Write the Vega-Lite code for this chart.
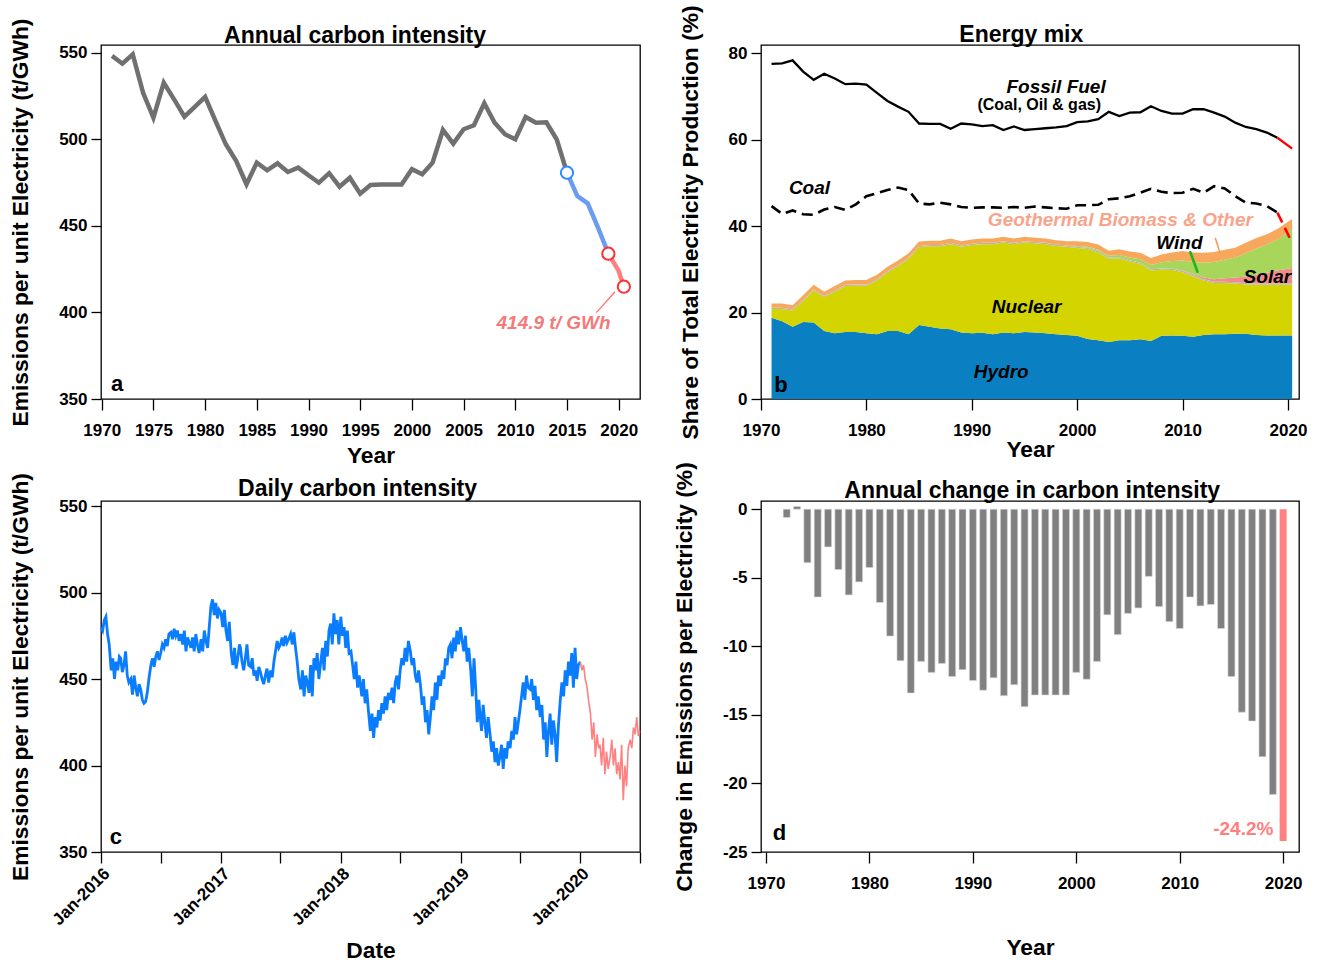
{
"$schema": "https://vega.github.io/schema/vega-lite/v6.json",
"background": "white",
"padding": {"left": 8, "top": 4, "right": 5, "bottom": 5},
"columns": 2,
"spacing": {"row": 102, "column": 121},
"bounds": "flush",
"config": {
  "font": "Liberation Sans",
  "view": {"stroke": "#000", "strokeWidth": 1.3},
  "axis": {"grid": false, "domain": false, "labelFont": "Liberation Sans", "labelFontSize": 17, "labelFontWeight": "bold", "labelColor": "#000", "titleFont": "Liberation Sans", "titleFontSize": 22.8, "titleFontWeight": "bold", "titleColor": "#000", "tickColor": "#000", "tickWidth": 1.3, "labelFlush": false, "labelOverlap": false, "labelBound": false},
  "axisX": {"tickSize": 11, "labelPadding": 12},
  "axisY": {"tickSize": 10, "labelPadding": 4, "titlePadding": 26}
},
"datasets": {
  "ann": [
    {"yr":1971,"v":548.3},{"yr":1972,"v":543.8},{"yr":1973,"v":549.2},{"yr":1974,"v":527},{"yr":1975,"v":512.6},{"yr":1976,"v":532.8},{"yr":1977,"v":523.2},{"yr":1978,"v":513.2},{"yr":1979,"v":518.8},{"yr":1980,"v":524.6},
    {"yr":1981,"v":510.7},{"yr":1982,"v":497.2},{"yr":1983,"v":487.6},{"yr":1984,"v":474.1},{"yr":1985,"v":486.6},{"yr":1986,"v":482.2},{"yr":1987,"v":486.2},{"yr":1988,"v":481.2},{"yr":1989,"v":483.7},{"yr":1990,"v":479.3},
    {"yr":1991,"v":475},{"yr":1992,"v":480.5},{"yr":1993,"v":472.7},{"yr":1994,"v":477.9},{"yr":1995,"v":468.7},{"yr":1996,"v":473.7},{"yr":1997,"v":474},{"yr":1998,"v":474},{"yr":1999,"v":474},{"yr":2000,"v":482.8},
    {"yr":2001,"v":479.9},{"yr":2002,"v":486.6},{"yr":2003,"v":505.5},{"yr":2004,"v":497.6},{"yr":2005,"v":505.9},{"yr":2006,"v":508.2},{"yr":2007,"v":520.9},{"yr":2008,"v":509.7},{"yr":2009,"v":503},{"yr":2010,"v":500.1},
    {"yr":2011,"v":513},{"yr":2012,"v":509.7},{"yr":2013,"v":509.9},{"yr":2014,"v":500.1},{"yr":2015,"v":480.8},{"yr":2016,"v":467.3},{"yr":2017,"v":463.1},{"yr":2018,"v":449},{"yr":2019,"v":434},{"yr":2020,"v":424},{"yr":2020.5,"v":414.9}
  ],
  "mix": [
    {"yr":1971,"a_hydro":18.8,"b_nuclear":2.0,"c_gap":0.3,"d_solar":0,"e_wind":0,"f_other":1.0},
    {"yr":1972,"a_hydro":18.0,"b_nuclear":2.8,"c_gap":0.3,"d_solar":0,"e_wind":0,"f_other":1.0},
    {"yr":1973,"a_hydro":16.7,"b_nuclear":3.7,"c_gap":0.3,"d_solar":0,"e_wind":0,"f_other":1.0},
    {"yr":1974,"a_hydro":17.8,"b_nuclear":4.9,"c_gap":0.3,"d_solar":0,"e_wind":0,"f_other":1.0},
    {"yr":1975,"a_hydro":17.7,"b_nuclear":7.4,"c_gap":0.3,"d_solar":0,"e_wind":0,"f_other":1.0},
    {"yr":1976,"a_hydro":15.7,"b_nuclear":7.8,"c_gap":0.3,"d_solar":0,"e_wind":0,"f_other":1.0},
    {"yr":1977,"a_hydro":15.2,"b_nuclear":9.6,"c_gap":0.3,"d_solar":0,"e_wind":0,"f_other":1.0},
    {"yr":1978,"a_hydro":15.5,"b_nuclear":10.6,"c_gap":0.3,"d_solar":0,"e_wind":0,"f_other":1.0},
    {"yr":1979,"a_hydro":15.5,"b_nuclear":10.7,"c_gap":0.3,"d_solar":0,"e_wind":0,"f_other":1.0},
    {"yr":1980,"a_hydro":15.2,"b_nuclear":11.0,"c_gap":0.3,"d_solar":0,"e_wind":0,"f_other":1.0},
    {"yr":1981,"a_hydro":15.0,"b_nuclear":12.4,"c_gap":0.3,"d_solar":0,"e_wind":0,"f_other":1.0},
    {"yr":1982,"a_hydro":15.7,"b_nuclear":13.6,"c_gap":0.3,"d_solar":0,"e_wind":0,"f_other":1.0},
    {"yr":1983,"a_hydro":15.7,"b_nuclear":15.0,"c_gap":0.3,"d_solar":0,"e_wind":0,"f_other":1.0},
    {"yr":1984,"a_hydro":15.0,"b_nuclear":17.4,"c_gap":0.3,"d_solar":0,"e_wind":0,"f_other":1.0},
    {"yr":1985,"a_hydro":17.1,"b_nuclear":18.0,"c_gap":0.3,"d_solar":0,"e_wind":0,"f_other":1.0},
    {"yr":1986,"a_hydro":16.7,"b_nuclear":18.6,"c_gap":0.3,"d_solar":0,"e_wind":0,"f_other":1.0},
    {"yr":1987,"a_hydro":16.3,"b_nuclear":19.0,"c_gap":0.3,"d_solar":0,"e_wind":0,"f_other":1.0},
    {"yr":1988,"a_hydro":16.1,"b_nuclear":19.7,"c_gap":0.3,"d_solar":0,"e_wind":0,"f_other":1.0},
    {"yr":1989,"a_hydro":15.4,"b_nuclear":19.8,"c_gap":0.3,"d_solar":0,"e_wind":0,"f_other":1.0},
    {"yr":1990,"a_hydro":15.2,"b_nuclear":20.4,"c_gap":0.3,"d_solar":0,"e_wind":0,"f_other":1.0},
    {"yr":1991,"a_hydro":15.3,"b_nuclear":20.5,"c_gap":0.3,"d_solar":0,"e_wind":0,"f_other":1.0},
    {"yr":1992,"a_hydro":15.0,"b_nuclear":20.8,"c_gap":0.3,"d_solar":0,"e_wind":0,"f_other":1.0},
    {"yr":1993,"a_hydro":15.4,"b_nuclear":20.8,"c_gap":0.3,"d_solar":0,"e_wind":0,"f_other":1.0},
    {"yr":1994,"a_hydro":15.2,"b_nuclear":20.6,"c_gap":0.3,"d_solar":0,"e_wind":0,"f_other":1.0},
    {"yr":1995,"a_hydro":15.5,"b_nuclear":20.7,"c_gap":0.3,"d_solar":0,"e_wind":0,"f_other":1.0},
    {"yr":1996,"a_hydro":15.4,"b_nuclear":20.6,"c_gap":0.3,"d_solar":0,"e_wind":0,"f_other":1.0},
    {"yr":1997,"a_hydro":15.2,"b_nuclear":20.6,"c_gap":0.3,"d_solar":0,"e_wind":0,"f_other":1.0},
    {"yr":1998,"a_hydro":15.0,"b_nuclear":20.4,"c_gap":0.3,"d_solar":0,"e_wind":0,"f_other":1.0},
    {"yr":1999,"a_hydro":14.8,"b_nuclear":20.4,"c_gap":0.3,"d_solar":0,"e_wind":0,"f_other":1.0},
    {"yr":2000,"a_hydro":14.6,"b_nuclear":20.3,"c_gap":0.3,"d_solar":0,"e_wind":0.2,"f_other":1.1},
    {"yr":2001,"a_hydro":13.9,"b_nuclear":20.8,"c_gap":0.3,"d_solar":0,"e_wind":0.2,"f_other":1.1},
    {"yr":2002,"a_hydro":13.6,"b_nuclear":20.3,"c_gap":0.3,"d_solar":0,"e_wind":0.3,"f_other":1.2},
    {"yr":2003,"a_hydro":13.2,"b_nuclear":19.2,"c_gap":0.3,"d_solar":0,"e_wind":0.4,"f_other":1.2},
    {"yr":2004,"a_hydro":13.6,"b_nuclear":18.9,"c_gap":0.3,"d_solar":0,"e_wind":0.5,"f_other":1.3},
    {"yr":2005,"a_hydro":13.6,"b_nuclear":18.2,"c_gap":0.3,"d_solar":0,"e_wind":0.6,"f_other":1.4},
    {"yr":2006,"a_hydro":13.8,"b_nuclear":17.4,"c_gap":0.3,"d_solar":0,"e_wind":0.8,"f_other":1.5},
    {"yr":2007,"a_hydro":13.4,"b_nuclear":16.3,"c_gap":0.3,"d_solar":0,"e_wind":1.0,"f_other":1.6},
    {"yr":2008,"a_hydro":14.6,"b_nuclear":15.3,"c_gap":0.3,"d_solar":0,"e_wind":1.4,"f_other":1.8},
    {"yr":2009,"a_hydro":14.7,"b_nuclear":15.1,"c_gap":0.3,"d_solar":0,"e_wind":1.8,"f_other":2.0},
    {"yr":2010,"a_hydro":14.6,"b_nuclear":14.7,"c_gap":0.3,"d_solar":0.1,"e_wind":2.3,"f_other":2.2},
    {"yr":2011,"a_hydro":14.4,"b_nuclear":14.0,"c_gap":0.3,"d_solar":0.2,"e_wind":2.8,"f_other":2.2},
    {"yr":2012,"a_hydro":14.8,"b_nuclear":12.6,"c_gap":0.3,"d_solar":0.4,"e_wind":3.4,"f_other":2.3},
    {"yr":2013,"a_hydro":15.0,"b_nuclear":11.8,"c_gap":0.3,"d_solar":0.6,"e_wind":4.0,"f_other":2.3},
    {"yr":2014,"a_hydro":15.0,"b_nuclear":11.8,"c_gap":0.3,"d_solar":0.8,"e_wind":4.3,"f_other":2.3},
    {"yr":2015,"a_hydro":15.1,"b_nuclear":11.6,"c_gap":0.3,"d_solar":1.1,"e_wind":4.6,"f_other":2.3},
    {"yr":2016,"a_hydro":15.1,"b_nuclear":11.4,"c_gap":0.3,"d_solar":1.5,"e_wind":5.4,"f_other":2.4},
    {"yr":2017,"a_hydro":14.8,"b_nuclear":11.6,"c_gap":0.3,"d_solar":2.0,"e_wind":6.1,"f_other":2.4},
    {"yr":2018,"a_hydro":14.7,"b_nuclear":11.7,"c_gap":0.3,"d_solar":2.5,"e_wind":6.5,"f_other":2.4},
    {"yr":2019,"a_hydro":14.7,"b_nuclear":11.7,"c_gap":0.3,"d_solar":3.0,"e_wind":7.2,"f_other":2.4},
    {"yr":2020.4,"a_hydro":14.7,"b_nuclear":11.7,"c_gap":0.3,"d_solar":3.6,"e_wind":8.9,"f_other":2.4}
  ],
  "fos": [
    {"yr":1971,"f":77.5,"c":44.6},{"yr":1972,"f":77.6,"c":42.8},{"yr":1973,"f":78.3,"c":43.6},{"yr":1974,"f":75.7,"c":42.7},{"yr":1975,"f":73.8,"c":42.6},{"yr":1976,"f":75.2,"c":43.8},{"yr":1977,"f":74.1,"c":44.4},{"yr":1978,"f":72.8,"c":43.7},{"yr":1979,"f":72.9,"c":45.0},{"yr":1980,"f":72.7,"c":46.9},
    {"yr":1981,"f":70.8,"c":47.6},{"yr":1982,"f":68.9,"c":48.3},{"yr":1983,"f":67.6,"c":48.9},{"yr":1984,"f":66.4,"c":48.3},{"yr":1985,"f":63.7,"c":45.2},{"yr":1986,"f":63.6,"c":45.0},{"yr":1987,"f":63.6,"c":45.4},{"yr":1988,"f":62.5,"c":45.0},{"yr":1989,"f":63.7,"c":44.4},{"yr":1990,"f":63.5,"c":44.2},
    {"yr":1991,"f":63.1,"c":44.3},{"yr":1992,"f":63.3,"c":44.3},{"yr":1993,"f":62.2,"c":44.2},{"yr":1994,"f":63.0,"c":44.4},{"yr":1995,"f":62.2,"c":44.2},{"yr":1996,"f":62.4,"c":44.5},{"yr":1997,"f":62.6,"c":44.3},{"yr":1998,"f":62.8,"c":44.1},{"yr":1999,"f":63.1,"c":44.0},{"yr":2000,"f":64.0,"c":44.8},
    {"yr":2001,"f":64.2,"c":44.8},{"yr":2002,"f":64.7,"c":44.9},{"yr":2003,"f":66.4,"c":46.2},{"yr":2004,"f":65.4,"c":46.4},{"yr":2005,"f":66.2,"c":46.9},{"yr":2006,"f":66.3,"c":47.7},{"yr":2007,"f":67.7,"c":48.6},{"yr":2008,"f":66.6,"c":47.9},{"yr":2009,"f":66.0,"c":47.6},{"yr":2010,"f":66.0,"c":47.7},
    {"yr":2011,"f":67.0,"c":48.6},{"yr":2012,"f":67.0,"c":47.7},{"yr":2013,"f":66.2,"c":49.2},{"yr":2014,"f":65.3,"c":48.7},{"yr":2015,"f":63.9,"c":46.9},{"yr":2016,"f":62.9,"c":45.4},{"yr":2017,"f":62.4,"c":45.2},{"yr":2018,"f":61.6,"c":44.6},{"yr":2019,"f":60.4,"c":43.1},{"yr":2020.4,"f":57.9,"c":36.1}
  ],
  "chg": [
    {"yr":1972,"v":-0.6},{"yr":1973,"v":0.2},{"yr":1974,"v":-3.9},{"yr":1975,"v":-6.4},{"yr":1976,"v":-2.75},{"yr":1977,"v":-4.4},{"yr":1978,"v":-6.25},{"yr":1979,"v":-5.3},{"yr":1980,"v":-4.25},
    {"yr":1981,"v":-6.8},{"yr":1982,"v":-9.25},{"yr":1983,"v":-11.05},{"yr":1984,"v":-13.4},{"yr":1985,"v":-11.1},{"yr":1986,"v":-11.9},{"yr":1987,"v":-11.25},{"yr":1988,"v":-12.2},{"yr":1989,"v":-11.7},{"yr":1990,"v":-12.5},
    {"yr":1991,"v":-13.2},{"yr":1992,"v":-12.3},{"yr":1993,"v":-13.6},{"yr":1994,"v":-12.8},{"yr":1995,"v":-14.4},{"yr":1996,"v":-13.55},{"yr":1997,"v":-13.55},{"yr":1998,"v":-13.55},{"yr":1999,"v":-13.55},{"yr":2000,"v":-11.9},
    {"yr":2001,"v":-12.4},{"yr":2002,"v":-11.1},{"yr":2003,"v":-7.7},{"yr":2004,"v":-9.15},{"yr":2005,"v":-7.6},{"yr":2006,"v":-7.2},{"yr":2007,"v":-4.9},{"yr":2008,"v":-7.1},{"yr":2009,"v":-8.2},{"yr":2010,"v":-8.7},
    {"yr":2011,"v":-6.4},{"yr":2012,"v":-7.05},{"yr":2013,"v":-6.95},{"yr":2014,"v":-8.7},{"yr":2015,"v":-12.2},{"yr":2016,"v":-14.8},{"yr":2017,"v":-15.45},{"yr":2018,"v":-18.05},{"yr":2019,"v":-20.8},{"yr":2020,"v":-24.2}
  ],
  "daily": [
    {"d":"2016-01-01","v":480},{"d":"2016-01-06","v":478},{"d":"2016-01-11","v":484},{"d":"2016-01-16","v":486},{"d":"2016-01-21","v":476},{"d":"2016-01-26","v":470},
    {"d":"2016-02-01","v":455},{"d":"2016-02-06","v":462},{"d":"2016-02-11","v":450},{"d":"2016-02-16","v":460},{"d":"2016-02-21","v":455},{"d":"2016-02-26","v":463},
    {"d":"2016-03-01","v":462},{"d":"2016-03-06","v":454},{"d":"2016-03-11","v":458},{"d":"2016-03-16","v":466},{"d":"2016-03-21","v":452},{"d":"2016-03-26","v":448},
    {"d":"2016-04-01","v":450},{"d":"2016-04-06","v":441},{"d":"2016-04-11","v":452},{"d":"2016-04-16","v":445},{"d":"2016-04-21","v":440},{"d":"2016-04-26","v":447},
    {"d":"2016-05-01","v":444},{"d":"2016-05-06","v":438},{"d":"2016-05-11","v":436},{"d":"2016-05-16","v":437},{"d":"2016-05-21","v":442},{"d":"2016-05-26","v":450},
    {"d":"2016-06-01","v":458},{"d":"2016-06-06","v":462},{"d":"2016-06-11","v":457},{"d":"2016-06-16","v":463},{"d":"2016-06-21","v":466},{"d":"2016-06-26","v":461},
    {"d":"2016-07-01","v":465},{"d":"2016-07-06","v":470},{"d":"2016-07-11","v":468},{"d":"2016-07-16","v":473},{"d":"2016-07-21","v":469},{"d":"2016-07-26","v":476},
    {"d":"2016-08-01","v":477},{"d":"2016-08-06","v":473},{"d":"2016-08-11","v":479},{"d":"2016-08-16","v":475},{"d":"2016-08-21","v":478},{"d":"2016-08-26","v":472},
    {"d":"2016-09-01","v":476},{"d":"2016-09-06","v":470},{"d":"2016-09-11","v":478},{"d":"2016-09-16","v":466},{"d":"2016-09-21","v":474},{"d":"2016-09-26","v":471},
    {"d":"2016-10-01","v":468},{"d":"2016-10-06","v":474},{"d":"2016-10-11","v":466},{"d":"2016-10-16","v":476},{"d":"2016-10-21","v":470},{"d":"2016-10-26","v":465},
    {"d":"2016-11-01","v":473},{"d":"2016-11-06","v":466},{"d":"2016-11-11","v":478},{"d":"2016-11-16","v":472},{"d":"2016-11-21","v":468},{"d":"2016-11-26","v":480},
    {"d":"2016-12-01","v":492},{"d":"2016-12-06","v":496},{"d":"2016-12-11","v":487},{"d":"2016-12-16","v":494},{"d":"2016-12-21","v":485},{"d":"2016-12-26","v":490},
    {"d":"2017-01-01","v":488},{"d":"2017-01-06","v":480},{"d":"2017-01-11","v":490},{"d":"2017-01-16","v":478},{"d":"2017-01-21","v":472},{"d":"2017-01-26","v":483},
    {"d":"2017-02-01","v":465},{"d":"2017-02-06","v":458},{"d":"2017-02-11","v":468},{"d":"2017-02-16","v":456},{"d":"2017-02-21","v":462},{"d":"2017-02-26","v":470},
    {"d":"2017-03-01","v":468},{"d":"2017-03-06","v":460},{"d":"2017-03-11","v":455},{"d":"2017-03-16","v":462},{"d":"2017-03-21","v":470},{"d":"2017-03-26","v":458},
    {"d":"2017-04-01","v":457},{"d":"2017-04-06","v":462},{"d":"2017-04-11","v":452},{"d":"2017-04-16","v":455},{"d":"2017-04-21","v":449},{"d":"2017-04-26","v":457},
    {"d":"2017-05-01","v":454},{"d":"2017-05-06","v":450},{"d":"2017-05-11","v":447},{"d":"2017-05-16","v":452},{"d":"2017-05-21","v":456},{"d":"2017-05-26","v":448},
    {"d":"2017-06-01","v":455},{"d":"2017-06-06","v":451},{"d":"2017-06-11","v":460},{"d":"2017-06-16","v":466},{"d":"2017-06-21","v":472},{"d":"2017-06-26","v":468},
    {"d":"2017-07-01","v":470},{"d":"2017-07-06","v":474},{"d":"2017-07-11","v":469},{"d":"2017-07-16","v":475},{"d":"2017-07-21","v":471},{"d":"2017-07-26","v":473},
    {"d":"2017-08-01","v":476},{"d":"2017-08-06","v":470},{"d":"2017-08-11","v":477},{"d":"2017-08-16","v":468},{"d":"2017-08-21","v":460},{"d":"2017-08-26","v":450},
    {"d":"2017-09-01","v":444},{"d":"2017-09-06","v":455},{"d":"2017-09-11","v":440},{"d":"2017-09-16","v":452},{"d":"2017-09-21","v":448},{"d":"2017-09-26","v":442},
    {"d":"2017-10-01","v":458},{"d":"2017-10-06","v":440},{"d":"2017-10-11","v":462},{"d":"2017-10-16","v":455},{"d":"2017-10-21","v":465},{"d":"2017-10-26","v":450},
    {"d":"2017-11-01","v":460},{"d":"2017-11-06","v":468},{"d":"2017-11-11","v":455},{"d":"2017-11-16","v":472},{"d":"2017-11-21","v":463},{"d":"2017-11-26","v":478},
    {"d":"2017-12-01","v":482},{"d":"2017-12-06","v":470},{"d":"2017-12-11","v":488},{"d":"2017-12-16","v":476},{"d":"2017-12-21","v":484},{"d":"2017-12-26","v":470},
    {"d":"2018-01-01","v":486},{"d":"2018-01-06","v":475},{"d":"2018-01-11","v":480},{"d":"2018-01-16","v":468},{"d":"2018-01-21","v":478},{"d":"2018-01-26","v":465},
    {"d":"2018-02-01","v":466},{"d":"2018-02-06","v":458},{"d":"2018-02-11","v":450},{"d":"2018-02-16","v":460},{"d":"2018-02-21","v":445},{"d":"2018-02-26","v":452},
    {"d":"2018-03-01","v":448},{"d":"2018-03-06","v":440},{"d":"2018-03-11","v":450},{"d":"2018-03-16","v":436},{"d":"2018-03-21","v":444},{"d":"2018-03-26","v":432},
    {"d":"2018-04-01","v":420},{"d":"2018-04-06","v":430},{"d":"2018-04-11","v":416},{"d":"2018-04-16","v":428},{"d":"2018-04-21","v":422},{"d":"2018-04-26","v":432},
    {"d":"2018-05-01","v":426},{"d":"2018-05-06","v":436},{"d":"2018-05-11","v":430},{"d":"2018-05-16","v":440},{"d":"2018-05-21","v":432},{"d":"2018-05-26","v":442},
    {"d":"2018-06-01","v":438},{"d":"2018-06-06","v":445},{"d":"2018-06-11","v":436},{"d":"2018-06-16","v":448},{"d":"2018-06-21","v":452},{"d":"2018-06-26","v":444},
    {"d":"2018-07-01","v":455},{"d":"2018-07-06","v":462},{"d":"2018-07-11","v":458},{"d":"2018-07-16","v":468},{"d":"2018-07-21","v":460},{"d":"2018-07-26","v":472},
    {"d":"2018-08-01","v":466},{"d":"2018-08-06","v":458},{"d":"2018-08-11","v":462},{"d":"2018-08-16","v":452},{"d":"2018-08-21","v":448},{"d":"2018-08-26","v":455},
    {"d":"2018-09-01","v":446},{"d":"2018-09-06","v":435},{"d":"2018-09-11","v":440},{"d":"2018-09-16","v":425},{"d":"2018-09-21","v":432},{"d":"2018-09-26","v":418},
    {"d":"2018-10-01","v":428},{"d":"2018-10-06","v":440},{"d":"2018-10-11","v":432},{"d":"2018-10-16","v":448},{"d":"2018-10-21","v":438},{"d":"2018-10-26","v":452},
    {"d":"2018-11-01","v":446},{"d":"2018-11-06","v":455},{"d":"2018-11-11","v":450},{"d":"2018-11-16","v":462},{"d":"2018-11-21","v":458},{"d":"2018-11-26","v":468},
    {"d":"2018-12-01","v":470},{"d":"2018-12-06","v":462},{"d":"2018-12-11","v":474},{"d":"2018-12-16","v":466},{"d":"2018-12-21","v":478},{"d":"2018-12-26","v":470},
    {"d":"2019-01-01","v":480},{"d":"2019-01-06","v":472},{"d":"2019-01-11","v":466},{"d":"2019-01-16","v":475},{"d":"2019-01-21","v":460},{"d":"2019-01-26","v":468},
    {"d":"2019-02-01","v":455},{"d":"2019-02-06","v":440},{"d":"2019-02-11","v":462},{"d":"2019-02-16","v":445},{"d":"2019-02-21","v":425},{"d":"2019-02-26","v":438},
    {"d":"2019-03-01","v":430},{"d":"2019-03-06","v":420},{"d":"2019-03-11","v":435},{"d":"2019-03-16","v":425},{"d":"2019-03-21","v":416},{"d":"2019-03-26","v":428},
    {"d":"2019-04-01","v":418},{"d":"2019-04-06","v":408},{"d":"2019-04-11","v":414},{"d":"2019-04-16","v":402},{"d":"2019-04-21","v":410},{"d":"2019-04-26","v":400},
    {"d":"2019-05-01","v":405},{"d":"2019-05-06","v":412},{"d":"2019-05-11","v":398},{"d":"2019-05-16","v":410},{"d":"2019-05-21","v":404},{"d":"2019-05-26","v":414},
    {"d":"2019-06-01","v":410},{"d":"2019-06-06","v":420},{"d":"2019-06-11","v":415},{"d":"2019-06-16","v":428},{"d":"2019-06-21","v":418},{"d":"2019-06-26","v":425},
    {"d":"2019-07-01","v":432},{"d":"2019-07-06","v":440},{"d":"2019-07-11","v":448},{"d":"2019-07-16","v":438},{"d":"2019-07-21","v":452},{"d":"2019-07-26","v":445},
    {"d":"2019-08-01","v":444},{"d":"2019-08-06","v":450},{"d":"2019-08-11","v":438},{"d":"2019-08-16","v":446},{"d":"2019-08-21","v":432},{"d":"2019-08-26","v":440},
    {"d":"2019-09-01","v":428},{"d":"2019-09-06","v":435},{"d":"2019-09-11","v":415},{"d":"2019-09-16","v":425},{"d":"2019-09-21","v":405},{"d":"2019-09-26","v":420},
    {"d":"2019-10-01","v":430},{"d":"2019-10-06","v":412},{"d":"2019-10-11","v":426},{"d":"2019-10-16","v":418},{"d":"2019-10-21","v":402},{"d":"2019-10-26","v":422},
    {"d":"2019-11-01","v":438},{"d":"2019-11-06","v":448},{"d":"2019-11-11","v":440},{"d":"2019-11-16","v":455},{"d":"2019-11-21","v":446},{"d":"2019-11-26","v":460},
    {"d":"2019-12-01","v":452},{"d":"2019-12-06","v":465},{"d":"2019-12-11","v":445},{"d":"2019-12-16","v":468},{"d":"2019-12-21","v":450},{"d":"2019-12-26","v":458},
    {"d":"2020-01-01","v":460},{"d":"2020-01-06","v":455},{"d":"2020-01-11","v":458},{"d":"2020-01-16","v":450},{"d":"2020-01-21","v":446},{"d":"2020-01-26","v":438},
    {"d":"2020-02-01","v":430},{"d":"2020-02-06","v":415},{"d":"2020-02-11","v":425},{"d":"2020-02-16","v":405},{"d":"2020-02-21","v":418},{"d":"2020-02-26","v":410},
    {"d":"2020-03-01","v":412},{"d":"2020-03-06","v":400},{"d":"2020-03-11","v":416},{"d":"2020-03-16","v":395},{"d":"2020-03-21","v":408},{"d":"2020-03-26","v":398},
    {"d":"2020-04-01","v":405},{"d":"2020-04-06","v":415},{"d":"2020-04-11","v":400},{"d":"2020-04-16","v":410},{"d":"2020-04-21","v":395},{"d":"2020-04-26","v":402},
    {"d":"2020-05-01","v":392},{"d":"2020-05-06","v":412},{"d":"2020-05-11","v":380},{"d":"2020-05-16","v":400},{"d":"2020-05-21","v":388},{"d":"2020-05-26","v":410},
    {"d":"2020-06-01","v":415},{"d":"2020-06-06","v":410},{"d":"2020-06-11","v":422},{"d":"2020-06-16","v":418},{"d":"2020-06-21","v":428},{"d":"2020-06-26","v":417},{"d":"2020-06-30","v":420}
  ]
},
"concat": [
  {
    "width": 539, "height": 354,
    "layer": [
      {"data": {"name": "ann"}, "transform": [{"filter": "datum.yr <= 2015"}],
       "mark": {"type": "line", "color": "#707070", "strokeWidth": 4.5},
       "encoding": {
         "x": {"field": "yr", "type": "quantitative", "scale": {"domain": [1969.93, 2022.06], "nice": false, "zero": false}, "axis": {"values": [1970,1975,1980,1985,1990,1995,2000,2005,2010,2015,2020], "format": "d", "titlePadding": 6}, "title": "Year"},
         "y": {"field": "v", "type": "quantitative", "scale": {"domain": [350, 554.6], "nice": false, "zero": false}, "axis": {"values": [350,400,450,500,550]}, "title": "Emissions per unit Electricity (t/GWh)"}
       }},
      {"data": {"name": "ann"}, "transform": [{"filter": "datum.yr >= 2015 && datum.yr <= 2019"}],
       "mark": {"type": "line", "color": "#6C9CF0", "strokeWidth": 4.5},
       "encoding": {"x": {"field": "yr", "type": "quantitative", "title": "Year"}, "y": {"field": "v", "type": "quantitative", "title": "Emissions per unit Electricity (t/GWh)"}}},
      {"data": {"name": "ann"}, "transform": [{"filter": "datum.yr >= 2019"}],
       "mark": {"type": "line", "color": "#FF8080", "strokeWidth": 4.5},
       "encoding": {"x": {"field": "yr", "type": "quantitative", "title": "Year"}, "y": {"field": "v", "type": "quantitative", "title": "Emissions per unit Electricity (t/GWh)"}}},
      {"data": {"values": [{"yr": 2019.64, "v": 412, "yr2": 2017.84, "v2": 399.9}]},
       "mark": {"type": "rule", "color": "#FF6E6E", "strokeWidth": 1.2},
       "encoding": {"x": {"field": "yr", "type": "quantitative", "title": "Year"}, "y": {"field": "v", "type": "quantitative", "title": "Emissions per unit Electricity (t/GWh)"}, "x2": {"field": "yr2"}, "y2": {"field": "v2"}}},
      {"data": {"name": "ann"}, "transform": [{"filter": "datum.yr == 2015"}],
       "mark": {"type": "point", "shape": "circle", "size": 150, "filled": true, "fill": "white", "stroke": "#2E8BFF", "strokeWidth": 2, "opacity": 1},
       "encoding": {"x": {"field": "yr", "type": "quantitative", "title": "Year"}, "y": {"field": "v", "type": "quantitative", "title": "Emissions per unit Electricity (t/GWh)"}}},
      {"data": {"name": "ann"}, "transform": [{"filter": "datum.yr == 2019 || datum.yr == 2020.5"}],
       "mark": {"type": "point", "shape": "circle", "size": 150, "filled": true, "fill": "white", "stroke": "#FF3030", "strokeWidth": 2, "opacity": 1},
       "encoding": {"x": {"field": "yr", "type": "quantitative", "title": "Year"}, "y": {"field": "v", "type": "quantitative", "title": "Emissions per unit Electricity (t/GWh)"}}},
      {"data": {"values": [{"yr": 2013.7, "v": 393.9, "t": "414.9 t/ GWh"}]},
       "mark": {"type": "text", "font": "Liberation Sans", "fontSize": 19, "fontWeight": "bold", "fontStyle": "italic", "color": "#F47A7A", "align": "center", "baseline": "middle"},
       "encoding": {"x": {"field": "yr", "type": "quantitative", "title": "Year"}, "y": {"field": "v", "type": "quantitative", "title": "Emissions per unit Electricity (t/GWh)"}, "text": {"field": "t"}}},
      {"data": {"values": [{"yr": 1971.5, "v": 358.7, "t": "a"}]},
       "mark": {"type": "text", "font": "Liberation Sans", "fontSize": 22, "fontWeight": "bold", "color": "#000", "align": "center", "baseline": "middle"},
       "encoding": {"x": {"field": "yr", "type": "quantitative", "title": "Year"}, "y": {"field": "v", "type": "quantitative", "title": "Emissions per unit Electricity (t/GWh)"}, "text": {"field": "t"}}},
      {"data": {"values": [{"yr": 1994.5, "v": 559.8, "t": "Annual carbon intensity"}]},
       "mark": {"type": "text", "font": "Liberation Sans", "fontSize": 23, "fontWeight": "bold", "color": "#000", "align": "center", "baseline": "middle"},
       "encoding": {"x": {"field": "yr", "type": "quantitative", "title": "Year"}, "y": {"field": "v", "type": "quantitative", "title": "Emissions per unit Electricity (t/GWh)"}, "text": {"field": "t"}}}
    ]
  },
  {
    "width": 538, "height": 354,
    "layer": [
      {"data": {"name": "mix"}, "transform": [{"fold": ["a_hydro","b_nuclear","c_gap","d_solar","e_wind","f_other"], "as": ["key","val"]}],
       "mark": {"type": "area", "interpolate": "linear"},
       "encoding": {
         "x": {"field": "yr", "type": "quantitative", "scale": {"domain": [1970, 2021.05], "nice": false, "zero": false}, "axis": {"values": [1970,1980,1990,2000,2010,2020], "format": "d", "titlePadding": 0}, "title": "Year"},
         "y": {"field": "val", "type": "quantitative", "stack": "zero", "scale": {"domain": [0, 81.85], "nice": false}, "axis": {"values": [0,20,40,60,80]}, "title": "Share of Total Electricity Production (%)"},
         "color": {"field": "key", "type": "nominal", "scale": {"domain": ["a_hydro","b_nuclear","c_gap","d_solar","e_wind","f_other"], "range": ["#0A80C2","#D4D400","#B5B5B5","#F28C8C","#A8D65A","#F7A85C"]}, "legend": null},
         "order": {"field": "key", "type": "ordinal"}
       }},
      {"data": {"name": "fos"}, "transform": [{"filter": "datum.yr <= 2019"}],
       "mark": {"type": "line", "color": "#000", "strokeWidth": 2.3},
       "encoding": {"x": {"field": "yr", "type": "quantitative", "title": "Year"}, "y": {"field": "f", "type": "quantitative", "title": "Share of Total Electricity Production (%)"}}},
      {"data": {"name": "fos"}, "transform": [{"filter": "datum.yr >= 2019"}],
       "mark": {"type": "line", "color": "#FF0000", "strokeWidth": 2.3},
       "encoding": {"x": {"field": "yr", "type": "quantitative", "title": "Year"}, "y": {"field": "f", "type": "quantitative", "title": "Share of Total Electricity Production (%)"}}},
      {"data": {"name": "fos"}, "transform": [{"filter": "datum.yr <= 2019"}],
       "mark": {"type": "line", "color": "#000", "strokeWidth": 2.6, "strokeDash": [11, 6]},
       "encoding": {"x": {"field": "yr", "type": "quantitative", "title": "Year"}, "y": {"field": "c", "type": "quantitative", "title": "Share of Total Electricity Production (%)"}}},
      {"data": {"name": "fos"}, "transform": [{"filter": "datum.yr >= 2019"}],
       "mark": {"type": "line", "color": "#FF0000", "strokeWidth": 2.6, "strokeDash": [11, 6]},
       "encoding": {"x": {"field": "yr", "type": "quantitative", "title": "Year"}, "y": {"field": "c", "type": "quantitative", "title": "Share of Total Electricity Production (%)"}}},
      {"data": {"values": [{"yr": 2010.7, "v": 34.2, "yr2": 2011.45, "v2": 29.2}]},
       "mark": {"type": "rule", "color": "#1DB31D", "strokeWidth": 2.5},
       "encoding": {"x": {"field": "yr", "type": "quantitative", "title": "Year"}, "y": {"field": "v", "type": "quantitative", "title": "Share of Total Electricity Production (%)"}, "x2": {"field": "yr2"}, "y2": {"field": "v2"}}},
      {"data": {"values": [{"yr": 2013.1, "v": 37.3, "yr2": 2013.55, "v2": 33.8}]},
       "mark": {"type": "rule", "color": "#F79A50", "strokeWidth": 1.5},
       "encoding": {"x": {"field": "yr", "type": "quantitative", "title": "Year"}, "y": {"field": "v", "type": "quantitative", "title": "Share of Total Electricity Production (%)"}, "x2": {"field": "yr2"}, "y2": {"field": "v2"}}},
      {"data": {"values": [
         {"yr": 1998.0, "v": 72.1, "t": "Fossil Fuel"},
         {"yr": 1974.6, "v": 48.8, "t": "Coal"},
         {"yr": 2009.7, "v": 36.1, "t": "Wind"},
         {"yr": 2018.05, "v": 28.2, "t": "Solar"},
         {"yr": 1995.2, "v": 21.3, "t": "Nuclear"},
         {"yr": 1992.8, "v": 6.2, "t": "Hydro"}]},
       "mark": {"type": "text", "font": "Liberation Sans", "fontSize": 19, "fontWeight": "bold", "fontStyle": "italic", "color": "#000", "align": "center", "baseline": "middle"},
       "encoding": {"x": {"field": "yr", "type": "quantitative", "title": "Year"}, "y": {"field": "v", "type": "quantitative", "title": "Share of Total Electricity Production (%)"}, "text": {"field": "t"}}},
      {"data": {"values": [{"yr": 1996.4, "v": 68.0, "t": "(Coal, Oil & gas)"}]},
       "mark": {"type": "text", "font": "Liberation Sans", "fontSize": 16, "fontWeight": "bold", "color": "#000", "align": "center", "baseline": "middle"},
       "encoding": {"x": {"field": "yr", "type": "quantitative", "title": "Year"}, "y": {"field": "v", "type": "quantitative", "title": "Share of Total Electricity Production (%)"}, "text": {"field": "t"}}},
      {"data": {"values": [{"yr": 2004.1, "v": 41.4, "t": "Geothermal Biomass & Other"}]},
       "mark": {"type": "text", "font": "Liberation Sans", "fontSize": 19, "fontWeight": "bold", "fontStyle": "italic", "color": "#F8A48A", "align": "center", "baseline": "middle"},
       "encoding": {"x": {"field": "yr", "type": "quantitative", "title": "Year"}, "y": {"field": "v", "type": "quantitative", "title": "Share of Total Electricity Production (%)"}, "text": {"field": "t"}}},
      {"data": {"values": [{"yr": 1971.9, "v": 3.2, "t": "b"}]},
       "mark": {"type": "text", "font": "Liberation Sans", "fontSize": 22, "fontWeight": "bold", "color": "#000", "align": "center", "baseline": "middle"},
       "encoding": {"x": {"field": "yr", "type": "quantitative", "title": "Year"}, "y": {"field": "v", "type": "quantitative", "title": "Share of Total Electricity Production (%)"}, "text": {"field": "t"}}},
      {"data": {"values": [{"yr": 1994.7, "v": 84.16, "t": "Energy mix"}]},
       "mark": {"type": "text", "font": "Liberation Sans", "fontSize": 23, "fontWeight": "bold", "color": "#000", "align": "center", "baseline": "middle"},
       "encoding": {"x": {"field": "yr", "type": "quantitative", "title": "Year"}, "y": {"field": "v", "type": "quantitative", "title": "Share of Total Electricity Production (%)"}, "text": {"field": "t"}}}
    ]
  },
  {
    "width": 539, "height": 351,
    "layer": [
      {"data": {"name": "daily"}, "transform": [{"filter": "time(datum.d) <= utc(2020,0,1)"}],
       "mark": {"type": "line", "color": "#0A7DFF", "strokeWidth": 2.8},
       "encoding": {
         "x": {"field": "d", "type": "temporal", "scale": {"type": "utc", "domain": [{"year": 2016, "month": 1, "date": 1, "utc": true}, {"year": 2020, "month": 7, "date": 1, "utc": true}]},
               "axis": {"values": [
                 {"year": 2016, "month": 1, "date": 1, "utc": true}, {"year": 2016, "month": 7, "date": 1, "utc": true},
                 {"year": 2017, "month": 1, "date": 1, "utc": true}, {"year": 2017, "month": 7, "date": 1, "utc": true},
                 {"year": 2018, "month": 1, "date": 1, "utc": true}, {"year": 2018, "month": 7, "date": 1, "utc": true},
                 {"year": 2019, "month": 1, "date": 1, "utc": true}, {"year": 2019, "month": 7, "date": 1, "utc": true},
                 {"year": 2020, "month": 1, "date": 1, "utc": true}, {"year": 2020, "month": 7, "date": 1, "utc": true}],
                 "labelExpr": "utcmonth(datum.value) == 0 ? utcFormat(datum.value, '%b-%Y') : ''",
                 "labelAngle": -45, "labelAlign": "right", "labelBaseline": "top", "labelPadding": 2, "titlePadding": 12}, "title": "Date"},
         "y": {"field": "v", "type": "quantitative", "scale": {"domain": [350, 552.9], "nice": false, "zero": false}, "axis": {"values": [350,400,450,500,550]}, "title": "Emissions per unit Electricity (t/GWh)"}
       }},
      {"data": {"name": "daily"}, "transform": [{"filter": "time(datum.d) >= utc(2020,0,1)"}],
       "mark": {"type": "line", "color": "#FF8080", "strokeWidth": 1.6},
       "encoding": {"x": {"field": "d", "type": "temporal", "title": "Date"}, "y": {"field": "v", "type": "quantitative", "title": "Emissions per unit Electricity (t/GWh)"}}},
      {"data": {"values": [{"d": "2016-02-15", "v": 358.7, "t": "c"}]},
       "mark": {"type": "text", "font": "Liberation Sans", "fontSize": 22, "fontWeight": "bold", "color": "#000", "align": "center", "baseline": "middle"},
       "encoding": {"x": {"field": "d", "type": "temporal", "title": "Date"}, "y": {"field": "v", "type": "quantitative", "title": "Emissions per unit Electricity (t/GWh)"}, "text": {"field": "t"}}},
      {"data": {"values": [{"d": "2018-02-21", "v": 559.8, "t": "Daily carbon intensity"}]},
       "mark": {"type": "text", "font": "Liberation Sans", "fontSize": 23, "fontWeight": "bold", "color": "#000", "align": "center", "baseline": "middle"},
       "encoding": {"x": {"field": "d", "type": "temporal", "title": "Date"}, "y": {"field": "v", "type": "quantitative", "title": "Emissions per unit Electricity (t/GWh)"}, "text": {"field": "t"}}}
    ]
  },
  {
    "width": 538, "height": 351,
    "layer": [
      {"data": {"name": "chg"}, "transform": [{"filter": "datum.yr < 2020"}],
       "mark": {"type": "bar", "width": 7, "color": "#808080", "stroke": "#D8D8D8", "strokeWidth": 0.6},
       "encoding": {
         "x": {"field": "yr", "type": "quantitative", "scale": {"domain": [1970, 2021.05], "nice": false, "zero": false}, "axis": {"values": [1970,1980,1990,2000,2010,2020], "format": "d", "titlePadding": 45}, "title": "Year"},
         "y": {"field": "v", "type": "quantitative", "scale": {"domain": [-25, 0.6], "nice": false}, "axis": {"values": [0,-5,-10,-15,-20,-25], "labelExpr": "'' + datum.value"}, "title": "Change in Emissions per Electricity (%)"}
       }},
      {"data": {"name": "chg"}, "transform": [{"filter": "datum.yr == 2020"}],
       "mark": {"type": "bar", "width": 7, "color": "#FF8080"},
       "encoding": {"x": {"field": "yr", "type": "quantitative", "title": "Year"}, "y": {"field": "v", "type": "quantitative", "title": "Change in Emissions per Electricity (%)"}}},
      {"mark": {"type": "rule", "color": "#505050", "strokeWidth": 1.3},
       "encoding": {"y": {"datum": 0, "type": "quantitative"}}},
      {"data": {"values": [{"yr": 2016.15, "v": -23.3, "t": "-24.2%"}]},
       "mark": {"type": "text", "font": "Liberation Sans", "fontSize": 19, "fontWeight": "bold", "color": "#FF7F7F", "align": "center", "baseline": "middle"},
       "encoding": {"x": {"field": "yr", "type": "quantitative", "title": "Year"}, "y": {"field": "v", "type": "quantitative", "title": "Change in Emissions per Electricity (%)"}, "text": {"field": "t"}}},
      {"data": {"values": [{"yr": 1971.3, "v": -23.6, "t": "d"}]},
       "mark": {"type": "text", "font": "Liberation Sans", "fontSize": 22, "fontWeight": "bold", "color": "#000", "align": "center", "baseline": "middle"},
       "encoding": {"x": {"field": "yr", "type": "quantitative", "title": "Year"}, "y": {"field": "v", "type": "quantitative", "title": "Change in Emissions per Electricity (%)"}, "text": {"field": "t"}}},
      {"data": {"values": [{"yr": 1995.74, "v": 1.33, "t": "Annual change in carbon intensity"}]},
       "mark": {"type": "text", "font": "Liberation Sans", "fontSize": 23, "fontWeight": "bold", "color": "#000", "align": "center", "baseline": "middle"},
       "encoding": {"x": {"field": "yr", "type": "quantitative", "title": "Year"}, "y": {"field": "v", "type": "quantitative", "title": "Change in Emissions per Electricity (%)"}, "text": {"field": "t"}}}
    ]
  }
]
}
